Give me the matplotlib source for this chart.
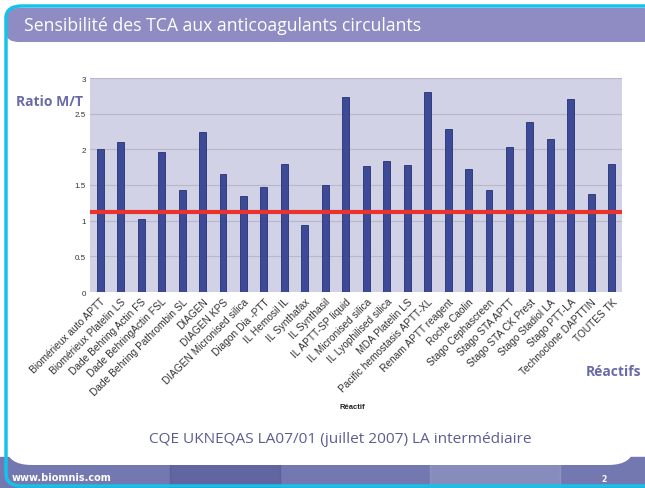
import numpy as np
import matplotlib
matplotlib.use('Agg')
import matplotlib.pyplot as plt
import matplotlib.patches as mpatches

reactifs = [
    "Biomérieux auto APTT", "Biomérieux Platelin LS", "Dade Behring Actin FS",
    "Dade BehringActin FSL", "Dade Behring Pathrombin SL", "DIAGEN",
    "DIAGEN KPS", "DIAGEN Micronised silica", "Diagon Dia -PTT",
    "IL Hemosil IL", "IL Synthafax", "IL Synthasil", "IL APTT-SP liquid",
    "IL Micronised silica", "IL Lyophilised silica", "MDA Platelin LS",
    "Pacific hemostasis APTT-XL", "Renam APTT reagent", "Roche Caolin",
    "Stago Cephascreen", "Stago STA APTT", "Stago STA CK Prest",
    "Stago Stadiol LA", "Stago PTT-LA", "Technoclone DAPTTIN", "TOUTES TK",
]
ratio_mt = [2.00, 2.10, 1.02, 1.96, 1.43, 2.25, 1.65, 1.35, 1.47, 1.80,
            0.94, 1.50, 2.73, 1.76, 1.84, 1.78, 2.81, 2.28, 1.73, 1.43,
            2.03, 2.39, 2.15, 2.70, 1.37, 1.80]
seuil = 1.12
y_ticks = [0, 0.5, 1, 1.5, 2, 2.5, 3]

W, H = 645, 489
fig = plt.figure(figsize=(W / 100, H / 100), dpi=100)
fig.patch.set_facecolor("white")

# ── slide decoration ─────────────────────────────────────────────────────────
def fx(px): return px / W
def fy(py): return 1 - py / H

# footer band
fig.patches.append(mpatches.Rectangle((0, 0), 1, fy(458), transform=fig.transFigure,
                                      color="#7378b0", zorder=0))
fig.patches.append(mpatches.Rectangle((fx(170), 0), fx(110), fy(462), transform=fig.transFigure,
                                      color="#4d5290", alpha=0.45, zorder=0))
fig.patches.append(mpatches.Rectangle((fx(430), 0), fx(130), fy(462), transform=fig.transFigure,
                                      color="#a3a6cc", alpha=0.45, zorder=0))
# white content area with rounded bottom-right
fig.patches.append(mpatches.FancyBboxPatch((fx(6), fy(466)), fx(628), fy(10) - fy(466),
                                           boxstyle="round,pad=0,rounding_size=0.04",
                                           transform=fig.transFigure, facecolor="white",
                                           edgecolor="none", zorder=0.5))
# title bar
fig.patches.append(mpatches.FancyBboxPatch((fx(6), fy(43)), fx(650), fy(9) - fy(43),
                                           boxstyle="round,pad=0,rounding_size=0.02",
                                           transform=fig.transFigure, facecolor="#8e8cc2",
                                           edgecolor="none", zorder=0.6))
# cyan border
fig.patches.append(mpatches.FancyBboxPatch((fx(6), fy(487)), fx(660), fy(7) - fy(487),
                                           boxstyle="round,pad=0,rounding_size=0.025",
                                           transform=fig.transFigure, facecolor="none",
                                           edgecolor="#17c2ea", lw=2.5, zorder=0.7))

fig.text(fx(24), fy(26), "Sensibilité des TCA aux anticoagulants circulants",
         color="white", fontsize=12.7, ha="left", va="center", family="Open Sans")
fig.text(fx(12), fy(478), "www.biomnis.com", color="white", fontsize=7,
         fontweight="bold", ha="left", va="center")
fig.text(fx(604), fy(480), "2", color="white", fontsize=5.5, fontweight="bold",
         ha="center", va="center")

# ── chart ────────────────────────────────────────────────────────────────────
ax = fig.add_axes([fx(90), fy(293), fx(622) - fx(90), fy(79) - fy(293)])
ax.set_zorder(5)
ax.set_facecolor("#d2d2e6")
x = np.arange(len(reactifs))
ax.bar(x, ratio_mt, width=0.34, color="#3d4a98", edgecolor="#27306e", lw=0.6, zorder=3)
ax.axhline(seuil, color="#e8332f", lw=3, zorder=4)
ax.set_xlim(-0.5, len(reactifs) - 0.5)
ax.set_ylim(0, 3)
ax.set_yticks(y_ticks)
ax.set_yticklabels(["0", "0.5", "1", "1.5", "2", "2.5", "3"], fontsize=5.8,
                   color="#333333", family="Liberation Sans")
ax.yaxis.grid(True, color="#b8b8cc", lw=0.8, zorder=1)
ax.set_xticks(x)
ax.set_xticklabels(reactifs, rotation=45, ha="right", rotation_mode="anchor",
                   fontsize=7.3, color="#333333", family="Liberation Sans")
ax.tick_params(length=0, pad=3)
for s in ax.spines.values():
    s.set_visible(False)

fig.text(fx(352), fy(408), "Réactif", fontsize=5.5, fontweight="bold",
         color="#222222", ha="center", va="center", family="Liberation Sans")
fig.text(fx(16), fy(102), "Ratio M/T", fontsize=10, fontweight="bold",
         color="#6a6aa8", ha="left", va="center", family="Open Sans")
fig.text(fx(586), fy(372), "Réactifs", fontsize=10, fontweight="bold",
         color="#6a6aa8", ha="left", va="center", family="Open Sans")
fig.text(fx(340), fy(440), "CQE UKNEQAS LA07/01 (juillet 2007) LA intermédiaire",
         fontsize=11.1, color="#5c5c92", ha="center", va="center", family="Open Sans")

plt.savefig("out.png", dpi=100)
plt.close()
